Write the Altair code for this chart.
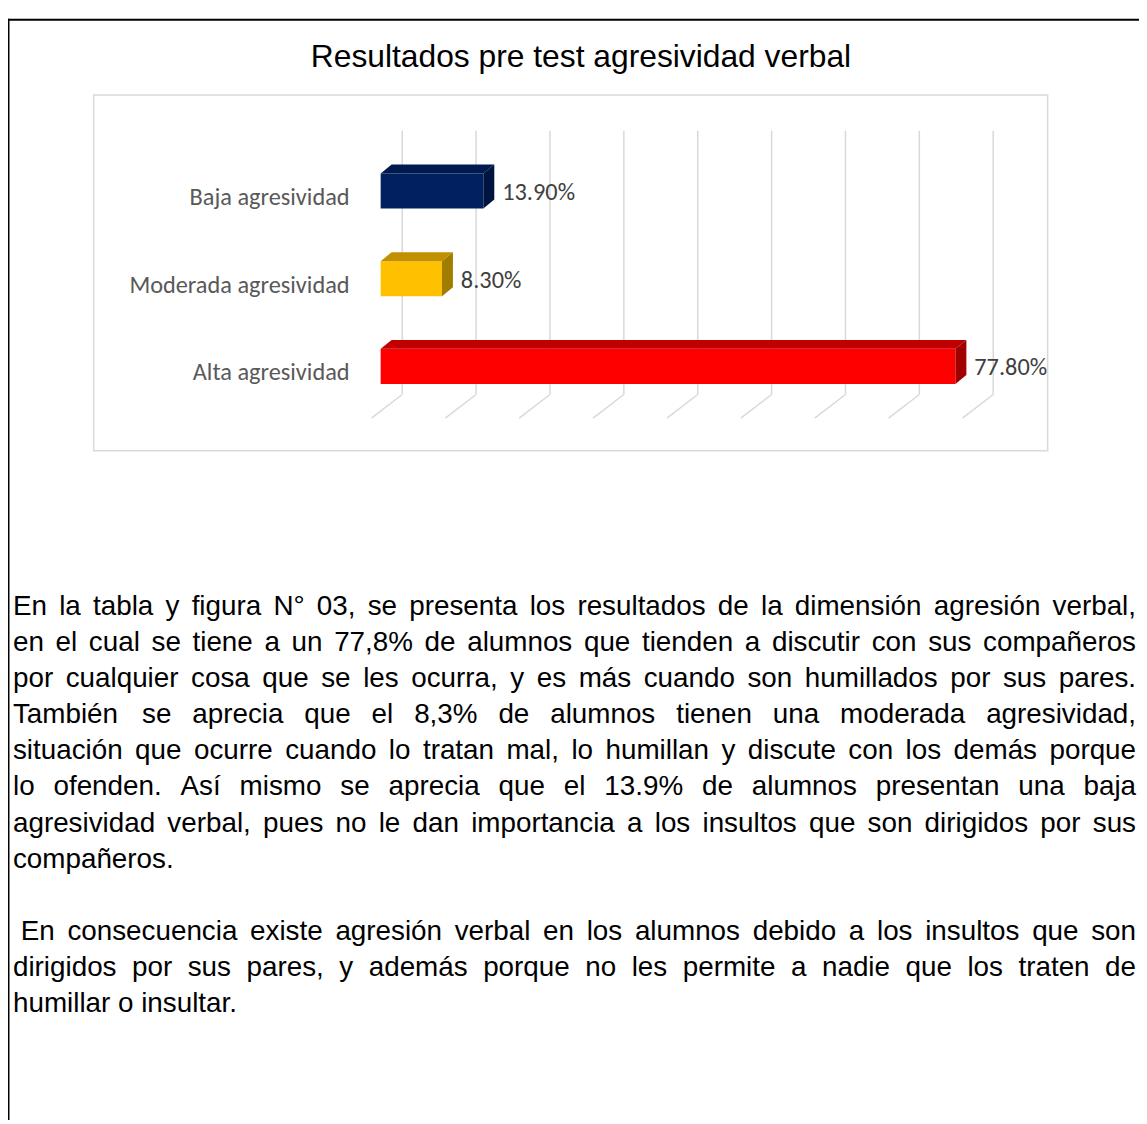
import altair as alt
import pandas as pd

# ---------------- data ----------------
categories = ["Baja agresividad", "Moderada agresividad", "Alta agresividad"]
values = [13.9, 8.3, 77.8]
value_labels = ["13.90%", "8.30%", "77.80%"]
grid_ticks = [0, 10, 20, 30, 40, 50, 60, 70, 80]
title_text = "Resultados pre test agresividad verbal"

paragraph_lines = [
    "En la tabla y figura N° 03, se presenta los resultados de la dimensión agresión verbal,",
    "en el cual se tiene a un 77,8% de alumnos que tienden a discutir con sus compañeros",
    "por cualquier cosa que se les ocurra, y es más cuando son humillados por sus pares.",
    "También se aprecia que el 8,3% de alumnos tienen una moderada agresividad,",
    "situación que ocurre cuando lo tratan mal, lo humillan y discute con los demás porque",
    "lo ofenden. Así mismo se aprecia que el 13.9% de alumnos presentan una baja",
    "agresividad verbal, pues no le dan importancia a los insultos que son dirigidos por sus",
    "compañeros.",
    " En consecuencia existe agresión verbal en los alumnos debido a los insultos que son",
    "dirigidos por sus pares, y además porque no les permite a nadie que los traten de",
    "humillar o insultar.",
]
line_justified = [True, True, True, True, True, True, True, False, True, True, False]
line_slot = [0, 1, 2, 3, 4, 5, 6, 7, 9, 10, 11]

# ---------------- styles ----------------
front_colors = ["#002060", "#FFC000", "#FF0000"]
top_colors = ["#001A4E", "#C09000", "#C00000"]
side_colors = ["#00143F", "#A07C00", "#A00000"]
grid_color = "#D9D9D9"
label_font = "Calibri, Carlito, Lato, sans-serif"
body_font = "Liberation Sans, Arial, sans-serif"

W_TOTAL, H_TOTAL = 1139, 1116

# geometry (pixel <-> data mapping)
X = alt.Scale(domain=[0, 80], range=[375.3, 970.5], nice=False, zero=False)
Y = alt.Scale(domain=[0, 2], range=[357.0, 180.3], nice=False, zero=False)
HALF = 0.2      # half bar thickness in category units
DEPTH_Y = 0.102  # 3D depth (category units)
DEPTH_X = 1.48   # 3D depth (% units)

n = len(categories)
bars = pd.DataFrame({
    "cat": categories,
    "v": values,
    "lab": value_labels,
    "pos": [n - 1 - i for i in range(n)],
})
bars["start"] = 0.0
bars["lo"] = bars["pos"] - HALF
bars["hi"] = bars["pos"] + HALF

top_rows, side_rows = [], []
for c, v, lo, hi in zip(bars["cat"], bars["v"], bars["lo"], bars["hi"]):
    top_rows.append({"cat": c, "y": hi, "x": 0.0, "x2": v})
    top_rows.append({"cat": c, "y": hi + DEPTH_Y, "x": DEPTH_X, "x2": v + DEPTH_X})
    side_rows.append({"cat": c, "x": v, "y": lo, "y2": hi})
    side_rows.append({"cat": c, "x": v + DEPTH_X, "y": lo + DEPTH_Y, "y2": hi + DEPTH_Y})
top_df = pd.DataFrame(top_rows)
side_df = pd.DataFrame(side_rows)
grid_df = pd.DataFrame({"g": grid_ticks})


def col(rng):
    return alt.Color("cat:N", scale=alt.Scale(domain=categories, range=rng), legend=None)


one = pd.DataFrame({"a": [0]})

# page frame
frame_top = alt.Chart(one).mark_rule(color="black", strokeWidth=2).encode(
    x=alt.value(0), x2=alt.value(W_TOTAL), y=alt.value(8))
frame_left = alt.Chart(one).mark_rule(color="black", strokeWidth=2).encode(
    x=alt.value(0.5), y=alt.value(7), y2=alt.value(H_TOTAL))

# chart box
box = alt.Chart(one).mark_rect(fill="white", fillOpacity=0, stroke=grid_color, strokeWidth=1.5).encode(
    x=alt.value(86.3), x2=alt.value(1047), y=alt.value(83.7), y2=alt.value(442))

title = alt.Chart(one).mark_text(text=title_text, font=body_font, fontSize=32, align="center",
                                 baseline="alphabetic", color="black").encode(
    x=alt.value(577), y=alt.value(55))

grid = alt.Chart(grid_df).mark_rule(color=grid_color, strokeWidth=1.5, xOffset=21.7).encode(
    x=alt.X("g:Q", scale=X, axis=None), y=alt.value(119.7), y2=alt.value(385.3))
floor = alt.Chart(grid_df).mark_rule(color=grid_color, strokeWidth=1.5, xOffset=21.7, x2Offset=-9.3).encode(
    x=alt.X("g:Q", scale=X, axis=None), x2="g:Q", y=alt.value(385.3), y2=alt.value(409))

front = alt.Chart(bars).mark_rect().encode(
    x=alt.X("start:Q", scale=X, axis=None), x2="v:Q",
    y=alt.Y("lo:Q", scale=Y, axis=None), y2="hi:Q", color=col(front_colors))
top = alt.Chart(top_df).mark_area(orient="horizontal").encode(
    y=alt.Y("y:Q", scale=Y, axis=None),
    x=alt.X("x:Q", scale=X, axis=None, stack=False), x2="x2:Q",
    detail="cat:N", color=col(top_colors))
side = alt.Chart(side_df).mark_area(orient="vertical").encode(
    x=alt.X("x:Q", scale=X, axis=None),
    y=alt.Y("y:Q", scale=Y, axis=None, stack=False), y2="y2:Q",
    detail="cat:N", color=col(side_colors))

cat_labels = alt.Chart(bars).mark_text(align="right", baseline="middle", yOffset=7, font=label_font,
                                       fontSize=24.5, color="#595959").encode(
    x=alt.value(344), y=alt.Y("pos:Q", scale=Y, axis=None), text="cat:N")
val_labels = alt.Chart(bars).mark_text(align="left", baseline="middle", xOffset=19, yOffset=2,
                                       font=label_font, fontSize=24.5, color="#404040").encode(
    x=alt.X("v:Q", scale=X, axis=None), y=alt.Y("pos:Q", scale=Y, axis=None), text="lab:N")

# ---------------- paragraph (justified) ----------------
FS = 28
ADV = {" ": 278, ",": 278, ".": 278, "%": 889, "°": 400}
for ch in "0123456789":
    ADV[ch] = 556
ADV.update({"A": 667, "E": 667, "N": 722, "T": 611})
ADV.update({"a": 556, "b": 556, "c": 500, "d": 556, "e": 556, "f": 278, "g": 556, "h": 556,
            "i": 222, "j": 222, "k": 500, "l": 222, "m": 833, "n": 556, "o": 556, "p": 556,
            "q": 556, "r": 333, "s": 500, "t": 278, "u": 556, "v": 500, "w": 722, "x": 500,
            "y": 500, "z": 500, "á": 556, "é": 556, "í": 278, "ó": 556, "ú": 556, "ñ": 556})


def tw(s):
    return sum(ADV.get(c, 556) for c in s) * FS / 1000.0


LEFT, RIGHT = 5.0, 1136.0
BASE0, STEP = 607.0, 36.4
words = []
for line, just, slot in zip(paragraph_lines, line_justified, line_slot):
    yb = BASE0 + STEP * slot
    lead = len(line) - len(line.lstrip(" "))
    x0 = LEFT + lead * tw(" ")
    ws = line.strip().split(" ")
    if just and len(ws) > 1:
        total = sum(tw(w) for w in ws)
        gap = (RIGHT - x0 - total) / (len(ws) - 1)
        x = x0
        for w in ws:
            words.append({"w": w, "px": x, "py": yb})
            x += tw(w) + gap
    else:
        words.append({"w": line.strip(), "px": x0, "py": yb})
words_df = pd.DataFrame(words)

para = alt.Chart(words_df).mark_text(align="left", baseline="alphabetic", font=body_font,
                                     fontSize=FS, color="black").encode(
    x=alt.X("px:Q", scale=None, axis=None), y=alt.Y("py:Q", scale=None, axis=None), text="w:N")

chart = alt.layer(
    frame_top, frame_left, box, title, grid, floor, front, top, side, cat_labels, val_labels, para
).resolve_scale(x="independent", y="independent", color="independent").properties(
    width=W_TOTAL, height=H_TOTAL, autosize=alt.AutoSizeParams(type="none"), padding=0,
    background="white"
).configure_view(strokeWidth=0)

chart.save("out.html", embed_options={"renderer": "svg", "actions": False})
